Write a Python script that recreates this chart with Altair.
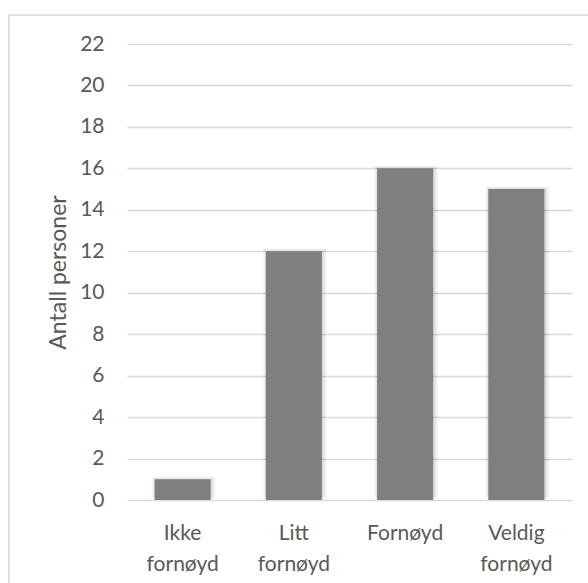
import altair as alt
import pandas as pd

# Survey answers: how satisfied the respondents are
categories = ["Ikke fornøyd", "Litt fornøyd", "Fornøyd", "Veldig fornøyd"]
counts = [1, 12, 16, 15]
y_ticks = list(range(0, 23, 2))

df = pd.DataFrame({"svar": categories, "antall": counts})

FONT = "Lato"
TEXT = "#595959"
GRID = "#d9d9d9"
BAR = "#7f7f7f"

W, H = 445, 456
PAD = {"left": 127, "top": 44, "right": 16, "bottom": 83}

x_enc = alt.X(
    "svar:N",
    sort=categories,
    scale=alt.Scale(paddingInner=0.5, paddingOuter=0.25),
    axis=alt.Axis(
        title=None,
        labelAngle=0,
        labelExpr="split(datum.label, ' ')",
        labelFont=FONT,
        labelFontSize=21,
        labelColor=TEXT,
        labelLineHeight=31,
        labelPadding=22,
        ticks=False,
        domain=False,
        grid=False,
    ),
)
y_enc = alt.Y(
    "antall:Q",
    scale=alt.Scale(domain=[0, 22], nice=False),
    axis=alt.Axis(
        title="Antall personer",
        values=y_ticks,
        labelFont=FONT,
        labelFontSize=21,
        labelColor=TEXT,
        labelPadding=23,
        titleFont=FONT,
        titleFontSize=23,
        titleFontWeight="normal",
        titleColor=TEXT,
        titlePadding=9,
        ticks=False,
        domain=False,
        grid=True,
        gridColor=GRID,
        gridWidth=1.5,
    ),
)

base = alt.Chart(df)

# soft drop shadow built from a few translucent, slightly larger bars
shadows = [
    base.mark_bar(size=64, color="#000000", opacity=0.035, yOffset=-3, y2Offset=5, xOffset=1).encode(x=x_enc, y=y_enc),
    base.mark_bar(size=61, color="#000000", opacity=0.05, yOffset=-1.5, y2Offset=3.5, xOffset=1).encode(x=x_enc, y=y_enc),
    base.mark_bar(size=58, color="#000000", opacity=0.07, yOffset=-0.5, y2Offset=2, xOffset=0.5).encode(x=x_enc, y=y_enc),
]

bars = base.mark_bar(size=56, color=BAR).encode(x=x_enc, y=y_enc)

# light frame around the whole chart
frame = alt.Chart(pd.DataFrame({"k": [0]})).mark_rect(
    fill=None, stroke=GRID, strokeWidth=1.6, clip=False
).encode(
    x=alt.value(9 - PAD["left"]),
    x2=alt.value(W + 60),
    y=alt.value(15 - PAD["top"]),
    y2=alt.value(H + 120),
)

chart = (
    alt.layer(frame, *shadows, bars)
    .properties(width=W, height=H, padding=PAD, autosize=alt.AutoSizeParams(type="none"), background="white")
    .configure_view(stroke=None)
)

chart.save("out.html", embed_options={"renderer": "svg", "actions": False})
